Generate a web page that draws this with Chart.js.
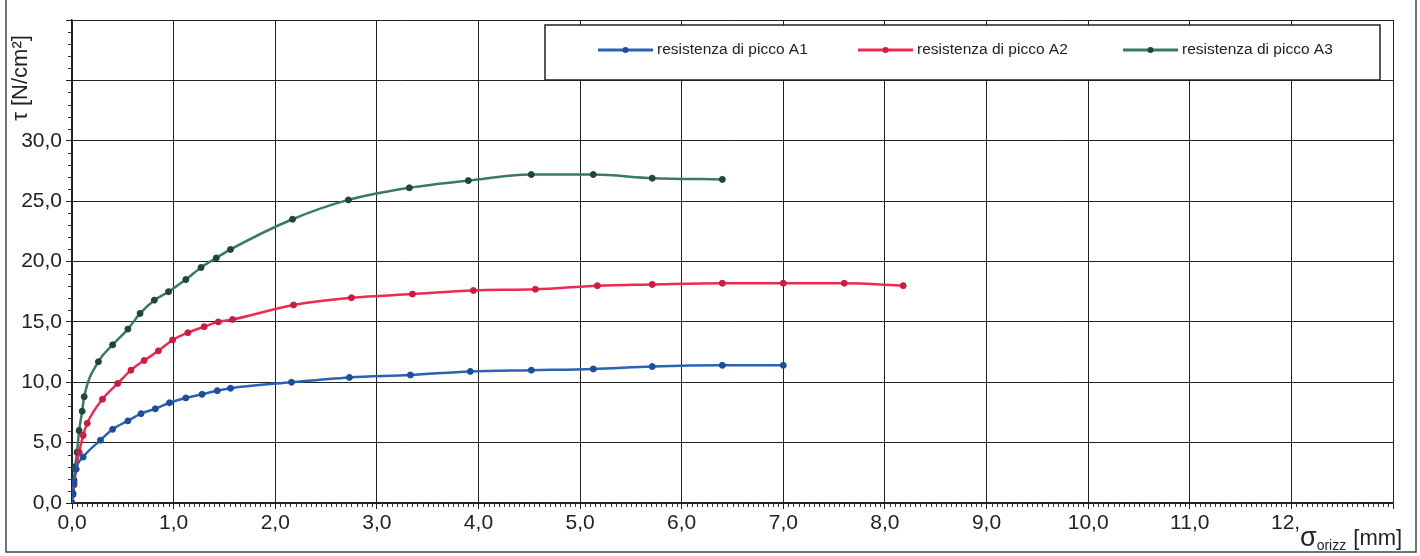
<!DOCTYPE html>
<html>
<head>
<meta charset="utf-8">
<script src="https://cdn.jsdelivr.net/npm/chart.js@4"></script>
<style>
  html, body { margin: 0; padding: 0; background: #fff; }
  #wrap { width: 1420px; height: 556px; position: relative; }
</style>
</head>
<body>
<div id="wrap"><canvas id="chart"></canvas></div>
<script>
// values
const seriesLabels = ['resistenza di picco A1', 'resistenza di picco A2', 'resistenza di picco A3'];

const a1X = [0, 0.01, 0.02, 0.04, 0.11, 0.28, 0.40, 0.55, 0.68, 0.82, 0.96, 1.12, 1.28, 1.43, 1.56, 2.16, 2.73, 3.33, 3.92, 4.52, 5.13, 5.71, 6.40, 7.00];
const a1Y = [0, 0.8, 1.7, 2.8, 3.8, 5.2, 6.1, 6.8, 7.4, 7.8, 8.3, 8.7, 9.0, 9.3, 9.5, 10.0, 10.4, 10.6, 10.9, 11.0, 11.1, 11.3, 11.4, 11.4];

const a2X = [0, 0.02, 0.04, 0.07, 0.11, 0.15, 0.30, 0.45, 0.58, 0.71, 0.85, 0.99, 1.14, 1.30, 1.44, 1.58, 2.18, 2.75, 3.35, 3.95, 4.56, 5.17, 5.71, 6.40, 7.00, 7.60, 8.18];
const a2Y = [0, 1.5, 2.8, 4.2, 5.6, 6.6, 8.6, 9.9, 11.0, 11.8, 12.6, 13.5, 14.1, 14.6, 15.0, 15.2, 16.4, 17.0, 17.3, 17.6, 17.7, 18.0, 18.1, 18.2, 18.2, 18.2, 18.0];

const a3X = [0, 0.01, 0.02, 0.03, 0.05, 0.07, 0.10, 0.12, 0.26, 0.40, 0.55, 0.67, 0.81, 0.95, 1.12, 1.27, 1.42, 1.56, 2.17, 2.72, 3.32, 3.90, 4.52, 5.13, 5.71, 6.40];
const a3Y = [0, 0.7, 1.9, 3.0, 4.2, 6.0, 7.6, 8.8, 11.7, 13.1, 14.4, 15.7, 16.8, 17.5, 18.5, 19.5, 20.3, 21.0, 23.5, 25.1, 26.1, 26.7, 27.2, 27.2, 26.9, 26.8];

const xTicks = [0, 1, 2, 3, 4, 5, 6, 7, 8, 9, 10, 11, 12];
const yTicks = [0, 5, 10, 15, 20, 25, 30];

const lineColors = ['#2a62b4', '#ec2a52', '#3a7a62'];
const pointColors = ['#1d4f96', '#c81e44', '#1f4637'];

function pts(xs, ys) {
    return xs.map((x, i) => ({ x: x, y: ys[i] }));
}

function comma(v) {
    return v.toFixed(1).replace('.', ',');
}

const FONT = 'Liberation Sans, Arial, sans-serif';

// minor ticks, frame, axis titles and the boxed legend
const decor = {
    id: 'decor',
    afterDraw(chart) {
        const { ctx, chartArea: a, scales: { x, y } } = chart;
        ctx.save();
        ctx.strokeStyle = '#333';
        ctx.lineWidth = 1;
        ctx.beginPath();
        for (let i = 1; i < 260; i++) {
            if (i % 20 === 0) continue;
            const px = Math.round(x.getPixelForValue(i * 0.05)) + 0.5;
            ctx.moveTo(px, a.bottom);
            ctx.lineTo(px, a.bottom + 4);
        }
        for (let i = 1; i < 40; i++) {
            if (i % 5 === 0) continue;
            const py = Math.round(y.getPixelForValue(i)) + 0.5;
            ctx.moveTo(a.left - 4, py);
            ctx.lineTo(a.left, py);
        }
        ctx.stroke();

        // outer frame
        ctx.strokeStyle = '#444';
        ctx.lineWidth = 1.5;
        ctx.beginPath();
        ctx.moveTo(6, 0);
        ctx.lineTo(6, 552);
        ctx.lineTo(1416, 552);
        ctx.lineTo(1416, 0);
        ctx.stroke();

        // y title
        ctx.fillStyle = '#222';
        ctx.save();
        ctx.translate(21, 78);
        ctx.rotate(-Math.PI / 2);
        ctx.textAlign = 'center';
        ctx.textBaseline = 'middle';
        ctx.font = '22px ' + FONT;
        ctx.fillText('\u03c4 [N/cm\u00b2]', 0, 0);
        ctx.restore();

        // x title, on a white patch that covers the end of the last label
        ctx.fillStyle = '#fff';
        ctx.fillRect(1301, 509, 113, 42);
        ctx.fillStyle = '#222';
        ctx.textBaseline = 'alphabetic';
        ctx.textAlign = 'left';
        ctx.font = '27px ' + FONT;
        ctx.fillText('\u03c3', 1300, 546);
        let w = ctx.measureText('\u03c3').width;
        ctx.font = '14px ' + FONT;
        ctx.fillText('orizz', 1300 + w, 550);
        w += ctx.measureText('orizz').width;
        ctx.font = '22px ' + FONT;
        ctx.fillText(' [mm]', 1300 + w + 1, 545);

        // legend box
        ctx.fillStyle = '#fff';
        ctx.fillRect(545, 25, 835, 55);
        ctx.strokeStyle = '#222';
        ctx.lineWidth = 1.5;
        ctx.strokeRect(545, 25, 835, 55);
        const lx = [598, 858, 1123];
        ctx.font = '15.5px ' + FONT;
        ctx.textBaseline = 'middle';
        chart.data.datasets.forEach((ds, i) => {
            const cy = 50;
            ctx.strokeStyle = ds.borderColor;
            ctx.lineWidth = 3;
            ctx.beginPath();
            ctx.moveTo(lx[i], cy);
            ctx.lineTo(lx[i] + 55, cy);
            ctx.stroke();
            ctx.fillStyle = ds.pointBackgroundColor;
            ctx.beginPath();
            ctx.arc(lx[i] + 27.5, cy, 3, 0, Math.PI * 2);
            ctx.fill();
            ctx.fillStyle = '#222';
            ctx.fillText(ds.label, lx[i] + 59, cy);
        });
        ctx.restore();
    }
};

function makeSet(i, xs, ys) {
    return {
        label: seriesLabels[i],
        data: pts(xs, ys),
        showLine: true,
        borderColor: lineColors[i],
        borderWidth: 2.5,
        pointRadius: 3,
        pointBackgroundColor: pointColors[i],
        pointBorderColor: pointColors[i],
        pointBorderWidth: 1,
        cubicInterpolationMode: 'monotone'
    };
}

const ctx = document.getElementById('chart').getContext('2d');
new Chart(ctx, {
    type: 'scatter',
    data: {
        datasets: [
            makeSet(0, a1X, a1Y),
            makeSet(1, a2X, a2Y),
            makeSet(2, a3X, a3Y)
        ]
    },
    options: {
        responsive: true,
        maintainAspectRatio: false,
        animation: false,
        layout: { padding: { top: 20, right: 27, left: 0, bottom: 0 } },
        plugins: {
            legend: { display: false },
            tooltip: { enabled: false }
        },
        scales: {
            x: {
                type: 'linear',
                min: 0,
                max: 13,
                afterFit: s => { s.height = 53; },
                afterBuildTicks: s => { s.ticks = xTicks.concat([13]).map(v => ({ value: v })); },
                ticks: {
                    color: '#222',
                    font: { family: FONT, size: 21 },
                    padding: 2,
                    maxRotation: 0,
                    callback: v => (xTicks.includes(v) ? comma(v) : '')
                },
                grid: { color: '#222', lineWidth: 1, tickLength: 6 },
                border: { color: '#222', width: 1.5 }
            },
            y: {
                min: 0,
                max: 40,
                afterFit: s => { s.width = 72; },
                afterBuildTicks: s => { s.ticks = [0, 5, 10, 15, 20, 25, 30, 35, 40].map(v => ({ value: v })); },
                ticks: {
                    color: '#222',
                    font: { family: FONT, size: 21 },
                    padding: 4,
                    callback: v => (yTicks.includes(v) ? comma(v) : '')
                },
                grid: { color: '#222', lineWidth: 1, tickLength: 6 },
                border: { color: '#222', width: 1.5 }
            }
        }
    },
    plugins: [decor]
});
</script>
</body>
</html>
